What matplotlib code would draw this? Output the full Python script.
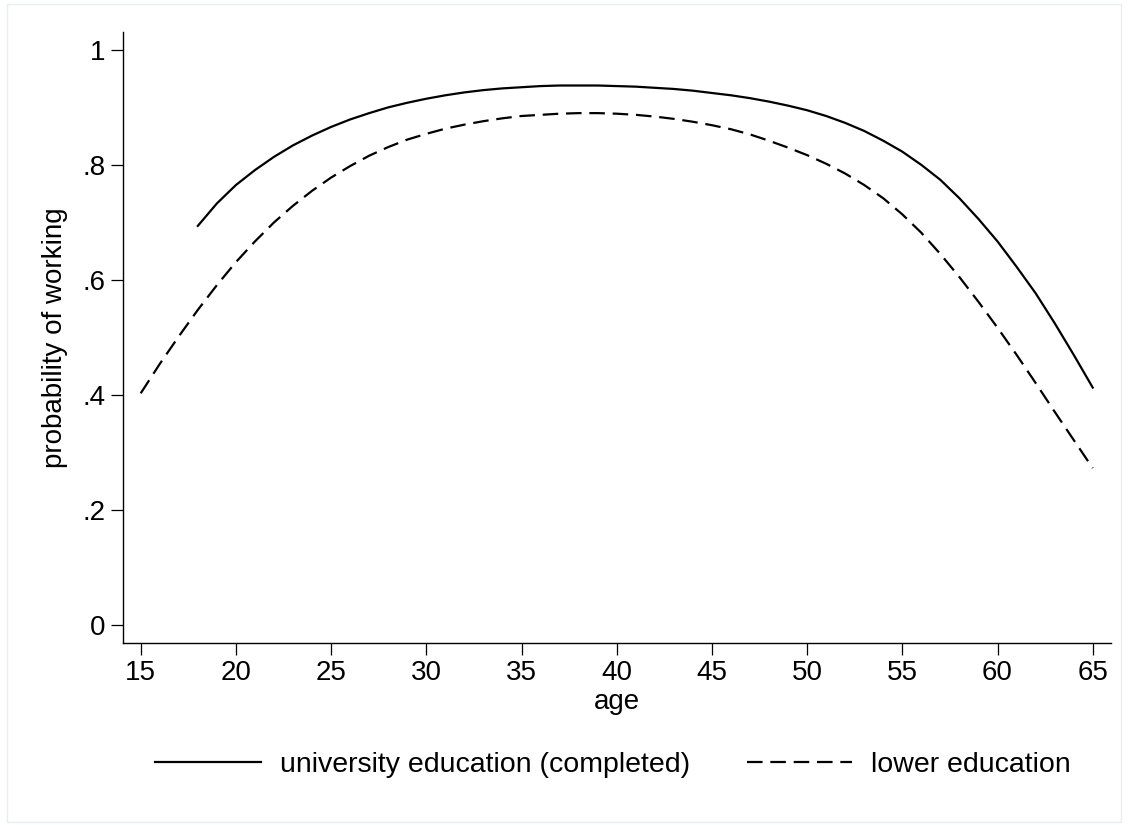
import matplotlib
matplotlib.use("Agg")
import matplotlib.pyplot as plt
from matplotlib.patches import Rectangle

plt.rcParams['font.family'] = ['Liberation Sans', 'DejaVu Sans']

# predicted probability of working by age
age_univ = list(range(18, 66))
p_univ = [0.694, 0.733, 0.765, 0.791, 0.814, 0.834, 0.851, 0.866, 0.879, 0.890,
          0.900, 0.908, 0.915, 0.921, 0.926, 0.930, 0.933, 0.935, 0.937, 0.938,
          0.938, 0.938, 0.937, 0.936, 0.934, 0.932, 0.929, 0.925, 0.921, 0.916,
          0.910, 0.903, 0.895, 0.885, 0.873, 0.859, 0.842, 0.823, 0.800, 0.774,
          0.742, 0.706, 0.667, 0.623, 0.577, 0.525, 0.470, 0.413]

age_lower = list(range(15, 66))
p_lower = [0.403, 0.454, 0.502, 0.548, 0.591, 0.631, 0.667, 0.700, 0.729, 0.755,
           0.778, 0.798, 0.816, 0.831, 0.844, 0.854, 0.863, 0.870, 0.876, 0.881,
           0.885, 0.887, 0.889, 0.890, 0.890, 0.889, 0.887, 0.884, 0.880, 0.875,
           0.869, 0.862, 0.853, 0.842, 0.830, 0.817, 0.802, 0.785, 0.765, 0.742,
           0.714, 0.682, 0.645, 0.605, 0.562, 0.517, 0.470, 0.421, 0.371, 0.322,
           0.273]

xticks = list(range(15, 70, 5))
yticks = [0, 0.2, 0.4, 0.6, 0.8, 1]
ytick_labels = ['0', '.2', '.4', '.6', '.8', '1']

W, H = 1128, 825
fig = plt.figure(figsize=(W / 100, H / 100), dpi=100)
ax = fig.add_axes([123 / W, 1 - 643 / H, (1111 - 123) / W, (643 - 32) / H])

# light outline of the graph region
fig.patches.append(Rectangle((7 / W, 3 / H), (1121 - 7) / W, (821 - 3) / H,
                             transform=fig.transFigure, fill=False,
                             edgecolor='#e6eef0', lw=1.0))

ax.plot(age_univ, p_univ, color='black', lw=1.6,
        label='university education (completed)')
ax.plot(age_lower, p_lower, color='black', lw=1.6, dashes=(7, 3.5),
        label='lower education')

ax.set_xlim(14.07, 65.96)
ax.set_ylim(-0.031, 1.031)
ax.set_xticks(xticks)
ax.set_yticks(yticks)
ax.set_yticklabels(ytick_labels)

for s in ['top', 'right']:
    ax.spines[s].set_visible(False)
for s in ['left', 'bottom']:
    ax.spines[s].set_linewidth(1.0)
ax.tick_params(axis='both', length=8.5, width=0.9, labelsize=20, pad=4)

ax.set_xlabel('age', fontsize=20)
ax.set_ylabel('probability of working', fontsize=20)
ax.xaxis.set_label_coords(0.5, -0.075)
ax.yaxis.set_label_coords(-0.056, 0.5)

fig.legend(loc='center', bbox_to_anchor=(613 / W, 1 - 765 / H), ncol=2,
           frameon=False, fontsize=20.5, handlelength=3.7, handletextpad=0.67,
           columnspacing=2.0)

fig.savefig('out.png', dpi=100)
